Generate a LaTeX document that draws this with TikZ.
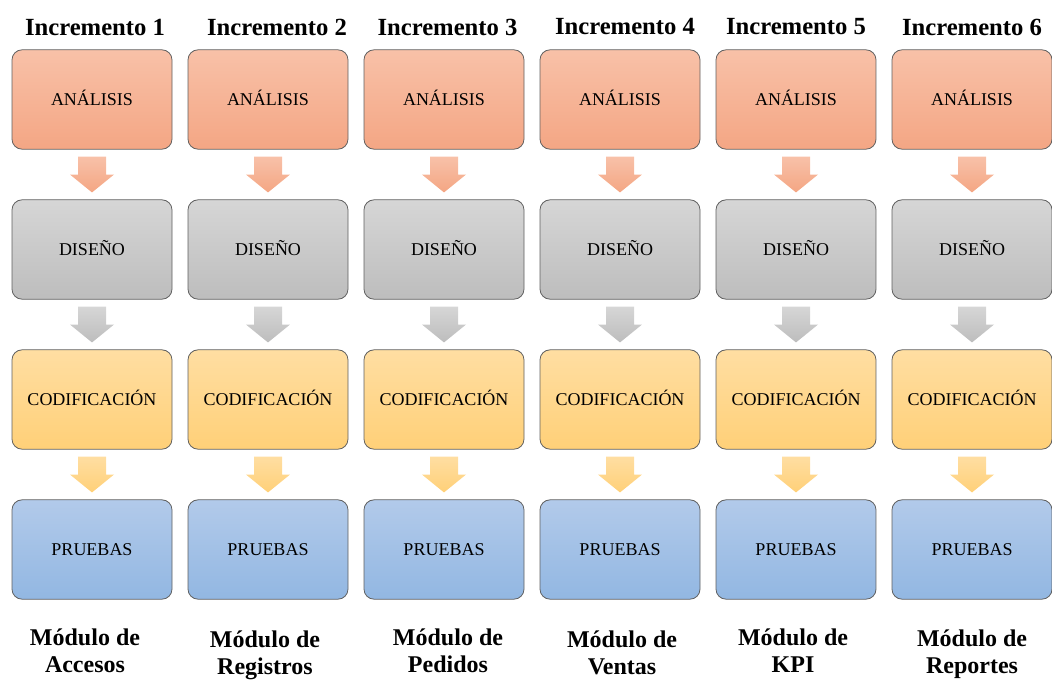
\documentclass[tikz,border=0pt]{standalone}
\usepackage{fontspec}
\setmainfont{Liberation Serif}
\usetikzlibrary{calc}
\definecolor{borde}{RGB}{95,95,95}
\definecolor{anaTop}{RGB}{248,193,168}
\definecolor{anaBot}{RGB}{244,166,132}
\definecolor{disTop}{RGB}{214,214,214}
\definecolor{disBot}{RGB}{189,189,189}
\definecolor{codTop}{RGB}{255,222,162}
\definecolor{codBot}{RGB}{255,208,120}
\definecolor{prbTop}{RGB}{178,202,234}
\definecolor{prbBot}{RGB}{146,183,226}
\tikzset{
  fase/.style={draw=borde,line width=0.6pt,rounded corners=7.5pt,minimum width=120pt,minimum height=74.5pt,inner sep=0pt,text height=8.8pt,text depth=0pt,font=\fontsize{13.5}{16}\selectfont},
  titulo/.style={inner sep=0pt,font=\bfseries\fontsize{18.5}{22}\selectfont},
  modulo/.style={inner sep=0pt,align=center,font=\bfseries\fontsize{18}{20.25}\selectfont}
}
\begin{document}
\begin{tikzpicture}[x=0.75pt,y=-0.75pt]
\useasboundingbox (0,0) rectangle (1052,682);
\foreach \i/\dt/\dm/\ym/\nom in {1/3/-7/651/Accesos,2/9/-3/655/Registros,3/3.5/4/651/Pedidos,4/5/2/653/Ventas,5/0/-3/651/KPI,6/0/0/654/Reportes}{
	\pgfmathsetmacro\cx{92+176*(\i-1)}
	% cabecera y fases
	\node[titulo] (t\i) at (\cx+\dt,27) {Incremento \i};
	\node[fase,top color=anaTop,bottom color=anaBot] (a\i) at (\cx,99.5) {ANÁLISIS};
	\node[fase,top color=disTop,bottom color=disBot] (d\i) at (\cx,249.5) {DISEÑO};
	\node[fase,top color=codTop,bottom color=codBot] (c\i) at (\cx,399.5) {CODIFICACIÓN};
	\node[fase,top color=prbTop,bottom color=prbBot] (p\i) at (\cx,549.5) {PRUEBAS};
	\node[modulo] (m\i) at (\cx+\dm,\ym) {Módulo de\\\nom};
	% flechas
	\foreach \u/\v/\ct/\cb in {a\i/d\i/anaTop/anaBot,d\i/c\i/disTop/disBot,c\i/p\i/codTop/codBot}{
		\shade[top color=\ct,bottom color=\cb] ($(\u.south)+(-14,7)$) -- ($(\u.south)+(14,7)$) -- ($(\u.south)+(14,25)$) -- ($(\u.south)+(22,25)$) -- ($(\v.north)+(0,-7)$) -- ($(\u.south)+(-22,25)$) -- ($(\u.south)+(-14,25)$) -- cycle;
	}
}
\end{tikzpicture}
\end{document}
